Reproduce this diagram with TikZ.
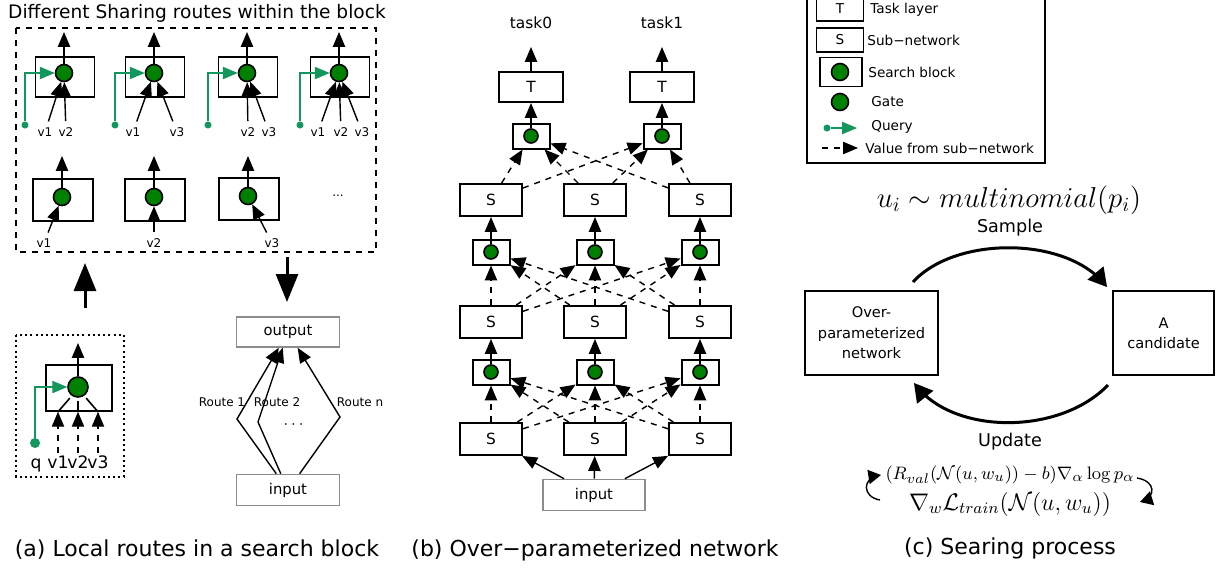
\documentclass[tikz,border=0pt]{standalone}
\usepackage{amsmath,amssymb}
\usepackage[no-math]{fontspec}
\setmainfont{DejaVu Sans}
\usepackage{tikz}
\usetikzlibrary{arrows}
\usetikzlibrary{arrows.meta}

\definecolor{gatefill}{RGB}{0,128,0}
\definecolor{querygreen}{RGB}{20,150,95}
\definecolor{iogray}{RGB}{140,140,140}
\newcommand{\fsz}[1]{\fontsize{#1}{#1}\selectfont}

\tikzset{
  blk/.style={draw, line width=0.8pt, inner sep=0pt},
  gate/.style={circle, draw, fill=gatefill, line width=0.8pt, inner sep=0pt},
  qdot/.style={circle, fill=querygreen, inner sep=0pt, minimum size=3.5pt},
  iobox/.style={draw=iogray, line width=0.8pt, inner sep=0pt, font=\fsz{7.4}},
  sbox/.style={blk, line width=1pt, minimum width=31pt, minimum height=16pt, font=\fsz{7.7}},
  gbox/.style={blk, line width=1pt, minimum width=18.5pt, minimum height=12.5pt},
  vlab/.style={inner sep=1pt, font=\fsz{6}},
  leg/.style={anchor=west, inner sep=1pt, font=\fsz{6.8}},
  arr/.style={line width=0.7pt, ->, >=triangle 45},
  val/.style={arr, dashed},
  qry/.style={arr, color=querygreen},
  bigarr/.style={line width=1.5pt, -{Triangle[length=14pt,width=11pt]}}
}

\begin{document}
\begin{tikzpicture}[x=0.5pt,y=-0.5pt]
\useasboundingbox (0,0) rectangle (1222,569);

% (a) routes within the block
\draw (197,13) node[font=\fsz{9.3}] (title) {Different Sharing routes within the block};
\draw[dashed, line width=0.8pt] (16,28) rectangle (376,252);

\coordinate (toprow) at (0,32);
\foreach \n/\x in {1/65,2/155,3/248,4/340}{
  \draw (\x,77) node[blk, minimum width=29.5pt, minimum height=20pt] (b\n) {};
  \draw ({\x-1},73) node[gate, minimum size=8.5pt] (c\n) {};
  \draw[arr] (c\n) -- (c\n |- toprow);
  \draw ({\x-40},125) node[qdot] (q\n) {};
  \draw[qry] (q\n) |- (c\n);
}
\foreach \n/\x/\lab/\k in {11/45/v1/1, 12/66/v2/1, 21/133/v1/2, 23/177/v3/2,
    32/248/v2/3, 33/269/v3/3, 41/318/v1/4, 42/341/v2/4, 43/362/v3/4}{
  \draw (\x,132) node[vlab] (v\n) {\lab};
  \draw[arr, shorten <=2pt] (v\n) -- (c\k);
}

\coordinate (toprowb) at (0,156);
\foreach \n/\x/\y/\lab/\lx in {5/63/200/v1/44, 6/155/200/v2/154, 7/249/199/v3/272}{
  \draw (\x,\y) node[blk, minimum width=30pt, minimum height=21pt] (b\n) {};
  \draw ({\x-1},{\y-3}) node[gate, minimum size=8.5pt] (c\n) {};
  \draw[arr] (c\n) -- (c\n |- toprowb);
  \draw (\lx,243) node[vlab] (v\n) {\lab};
  \draw[arr, shorten <=2pt] (v\n) -- (c\n);
}
\draw (338,196) node[font=\fsz{6}] (more) {...};

\coordinate (upfrom) at (85,308);
\coordinate (upto) at (85,263);
\draw[bigarr] (upfrom) -- (upto);
\coordinate (downfrom) at (287,257);
\coordinate (downto) at (287,302);
\draw[bigarr] (downfrom) -- (downto);

% one search block
\draw[line width=1pt, dash pattern=on 1pt off 1.6pt] (16,335) rectangle (124,477);
\draw (79,388) node[blk, minimum width=33pt, minimum height=23pt] (bl) {};
\draw (78,387) node[gate, minimum size=10pt] (cl) {};
\coordinate (blup) at (0,343);
\draw[arr] (cl) -- (cl |- blup);
\draw (35,443) node[qdot, minimum size=5pt] (ql) {};
\draw[qry] (ql) |- (cl);
\draw (36,468) node[anchor=base, inner sep=1pt, font=\fsz{8.6}] (lq) {q};
\foreach \i/\x/\a in {1/58/235,2/78/270,3/98/305}{
  \draw (\x,468) node[anchor=base, inner sep=1pt, font=\fsz{8.6}] (lv\i) {v\i};
  \draw[val] (lv\i) -- (lv\i |- bl.south);
  \draw[line width=0.8pt, shorten >=1.5pt] (lv\i |- bl.south) -- (cl.\a);
}

\draw (288,332) node[iobox, minimum width=51.5pt, minimum height=15pt] (out) {output};
\draw (288,490) node[iobox, minimum width=51.5pt, minimum height=15.5pt] (inp) {input};
\coordinate (r1) at (237,419);
\coordinate (r2) at (258,422);
\coordinate (rn) at (340,417);
\draw[arr] (inp) -- (r1) -- (out);
\draw[arr] (inp) -- (r2) -- (out);
\draw[arr] (inp) -- (rn) -- (out);
\draw (222,402) node[vlab] (rl1) {Route 1};
\draw (277,402) node[vlab] (rl2) {Route 2};
\draw (360,402) node[vlab] (rln) {Route n};
\draw (295,425) node[font=\fsz{8}] (rdots) {$\cdots$};

\draw (197,550) node[font=\fsz{11}] (capa) {(a) Local routes in a search block};

% (b) over-parameterized network
\coordinate (taskup) at (0,47);
\foreach \j/\x in {0/531,1/662}{
  \draw (\x,23) node[font=\fsz{7.7}] (task\j) {task\j};
  \draw (\x,87) node[sbox, minimum width=32pt, minimum height=15pt] (t\j) {T};
  \draw[arr] (t\j) -- (t\j |- taskup);
  \draw (\x,136) node[gbox] (gt\j) {};
  \draw (\x,136) node[gate, minimum size=7pt] (gct\j) {};
  \draw[arr] (gct\j) -- (t\j);
}
\foreach \i/\x in {1/491,2/595,3/700}{
  \draw (\x,200) node[sbox] (sa\i) {S};
  \draw (\x,252) node[gbox] (ga\i) {};
  \draw (\x,252) node[gate, minimum size=7pt] (gca\i) {};
  \draw (\x,322) node[sbox] (sb\i) {S};
  \draw (\x,372) node[gbox] (gb\i) {};
  \draw (\x,372) node[gate, minimum size=7pt] (gcb\i) {};
  \draw (\x,439) node[sbox] (sc\i) {S};
}
\draw (594,495) node[iobox, minimum width=51pt, minimum height=15.5pt] (inb) {input};

\foreach \i in {1,2,3}{
  \draw[arr] (inb) -- (sc\i);
  \draw[arr] (gcb\i) -- (sb\i);
  \draw[arr] (gca\i) -- (sa\i);
  \foreach \j in {1,2,3}{
    \draw[val] (sc\i) -- (gb\j);
    \draw[val] (sb\i) -- (ga\j);
  }
  \foreach \j in {0,1}
    \draw[val] (sa\i) -- (gt\j);
}

\draw (595,550) node[font=\fsz{11}] (capb) {(b) Over−parameterized network};

% (c) legend and searching process
\draw[line width=1pt] (807,-6) rectangle (1045,163);
\draw (840,9) node[blk, minimum width=23.5pt, minimum height=12pt, font=\fsz{6.8}] (lt) {T};
\draw (868,10) node[leg] (ltx) {Task layer};
\draw (840,40) node[blk, minimum width=23.5pt, minimum height=12pt, font=\fsz{6.8}] (ls) {S};
\draw (865,40) node[leg] (lsx) {Sub−network};
\draw (841,72) node[blk, minimum width=21pt, minimum height=14.5pt] (lb) {};
\draw (840,72) node[gate, minimum size=8.5pt] (lbc) {};
\draw (866,72) node[leg] (lbx) {Search block};
\draw (840,102) node[gate, minimum size=8.5pt] (lg) {};
\draw (869,102) node[leg] (lgx) {Gate};
\draw (827,128) node[qdot] (lq0) {};
\coordinate (lq1) at (857,128);
\draw[qry] (lq0) -- (lq1);
\draw (869,127) node[leg] (lqx) {Query};
\coordinate (lv0) at (822,148);
\coordinate (lv1) at (858,148);
\draw[val] (lv0) -- (lv1);
\draw (863,148) node[leg] (lvx) {Value from sub−network};

\draw (1009,200) node[font=\fsz{14.5}] (sampf) {$u_i \sim multinomial(p_i)$};
\draw (1010,228) node[font=\fsz{8.8}] (samp) {Sample};
\draw (871.5,333) node[blk, line width=1pt, minimum width=66.5pt, minimum height=42pt,
  align=center, font=\fontsize{7.3}{10.2}\selectfont] (over) {Over-\\parameterized\\network};
\draw (1163.5,333) node[blk, line width=1pt, minimum width=50.5pt, minimum height=42pt,
  align=center, font=\fontsize{7.3}{10}\selectfont] (cand) {A\\candidate};
\draw[line width=1.5pt, ->, >=triangle 60] ([shift={(-26,-8)}]over.north east)
  .. controls (955,236) and (1065,236) .. ([shift={(-5,-3)}]cand.north west);
\draw[line width=1.5pt, ->, >=triangle 60] ([shift={(-4,9)}]cand.south west)
  .. controls (1060,435) and (955,435) .. ([shift={(-25,7)}]over.south east);
\draw (1010,442) node[font=\fsz{8.8}] (upd) {Update};
\draw (1010,475) node[inner sep=0.5pt, font=\fsz{9.5}] (f1) {$(R_{val}(\mathcal{N}(u,w_u))-b)\nabla_\alpha \log p_\alpha$};
\draw (1010,504) node[inner sep=0.5pt, font=\fsz{11.5}] (f2) {$\nabla_w\mathcal{L}_{train}(\mathcal{N}(u,w_u))$};
\coordinate (la0) at (880,500);
\coordinate (la1) at (881,475);
\draw[line width=0.7pt, ->, >=triangle 60] (la0) .. controls (862,497) and (862,478) .. (la1);
\coordinate (ra0) at (1137,478);
\coordinate (ra1) at (1140,502);
\draw[line width=0.7pt, ->, >=triangle 60] (ra0) .. controls (1156,481) and (1156,497) .. (ra1);

\draw (1010,548) node[font=\fsz{11}] (capc) {(c) Searing process};
\end{tikzpicture}
\end{document}
